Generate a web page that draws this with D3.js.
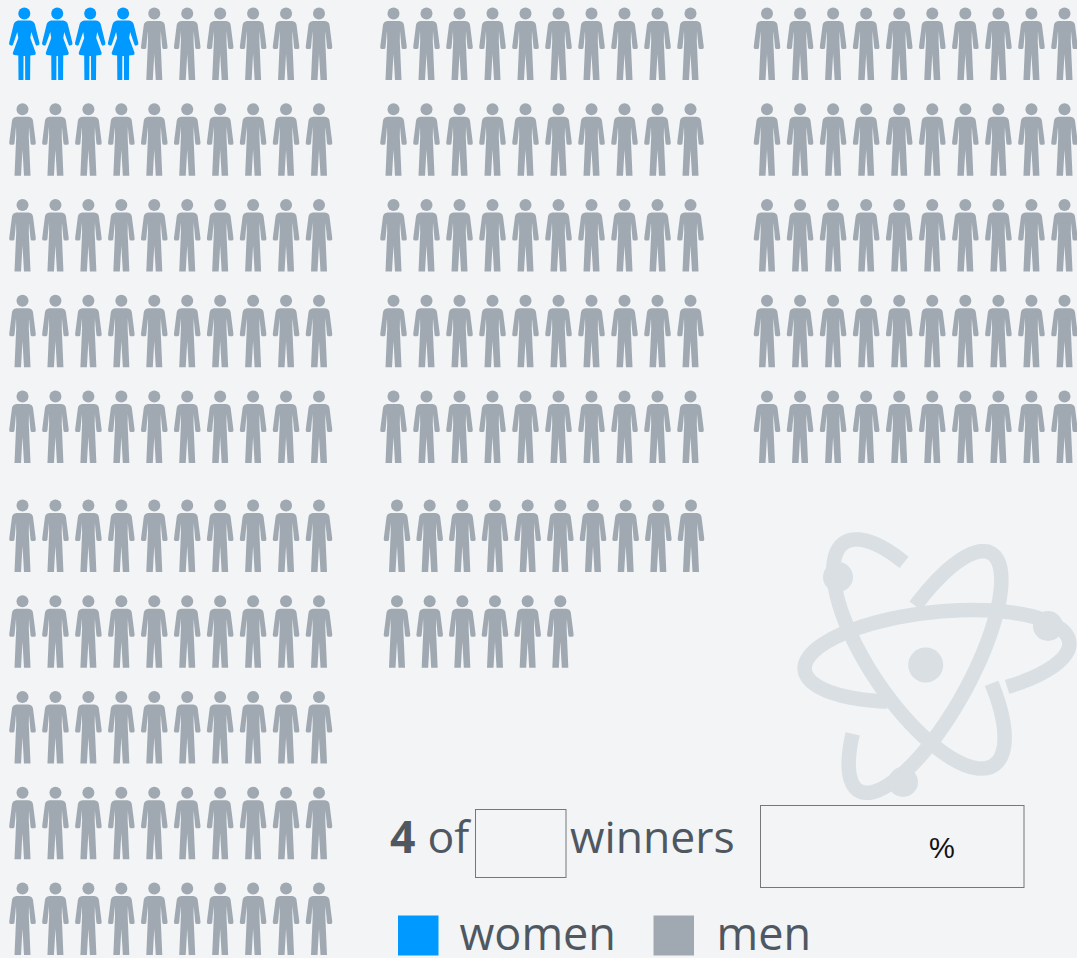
<!DOCTYPE html>
<html>
<head>
<meta charset="utf-8">
<script src="https://cdn.jsdelivr.net/npm/d3@7"></script>
<style>
html,body{margin:0;padding:0;background:#f2f4f6;overflow:hidden}
svg{display:block}
text{font-family:"Open Sans",sans-serif}
</style>
</head>
<body>
<svg id="chart" width="1077" height="958"></svg>
<script>
// Data
const womenCount = 4;
const blockNames = ["leftTop", "leftBottom", "midTop", "midBottom", "rightTop"];
const blockRows = [
  [10, 10, 10, 10, 10],
  [10, 10, 10, 10, 10],
  [10, 10, 10, 10, 10],
  [10, 6],
  [10, 10, 10, 10, 10]
];
const legendLabels = ["women", "men"];
const headlineCount = "4";
const headlineWords = ["of", "winners"];
const percentLabel = "%";

// Layout scales
const W = 1077, H = 958;
const blockX = {
  leftTop: d3.scaleLinear().domain([0, 9]).range([22.5, 319]),
  leftBottom: d3.scaleLinear().domain([0, 9]).range([22.5, 319]),
  midTop: d3.scaleLinear().domain([0, 9]).range([393.5, 690.5]),
  midBottom: d3.scaleLinear().domain([0, 9]).range([397, 691]),
  rightTop: d3.scaleLinear().domain([0, 9]).range([767, 1064.5])
};
const topRowY = d3.scaleLinear().domain([0, 4]).range([8, 391]);
const bottomRowY = d3.scaleLinear().domain([0, 4]).range([500, 883]);
const blockY = {leftTop: topRowY, leftBottom: bottomRowY, midTop: topRowY, midBottom: bottomRowY, rightTop: topRowY};

const color = d3.scaleOrdinal().domain(legendLabels).range(["#0099ff", "#a0a9b1"]);
const ink = "#4f5861";

const svg = d3.select("#chart");
svg.append("rect").attr("width", W).attr("height", H).attr("fill", "#f2f4f6");

// Atom watermark
const atomColor = "#d9dfe3";
const atom = svg.append("g").attr("class", "atom");
const orbits = [
  {cx: 937, cy: 656, a: 133, b: 44, rot: -6, from: 114, to: 421},
  {cx: 919, cy: 654, a: 134, b: 50, rot: 56, from: -61, to: 231},
  {cx: 925, cy: 672, a: 136, b: 44, rot: -61, from: -67, to: 229}
];
const orbitLine = d3.line();
orbits.forEach(o => {
  const r = o.rot * Math.PI / 180;
  const ts = d3.range(o.from, o.to + 0.5, 2).map(t => t * Math.PI / 180);
  const pts = ts.map(t => {
    const x = o.a * Math.cos(t), y = o.b * Math.sin(t);
    return [o.cx + x * Math.cos(r) - y * Math.sin(r), o.cy + x * Math.sin(r) + y * Math.cos(r)];
  });
  atom.append("path").attr("d", orbitLine(pts)).attr("fill", "none")
    .attr("stroke", atomColor).attr("stroke-width", 14.5);
});
[[925.7, 665, 17.5], [838, 577, 15], [1048, 626, 15], [903, 782, 15]].forEach(c => {
  atom.append("circle").attr("cx", c[0]).attr("cy", c[1]).attr("r", c[2]).attr("fill", atomColor);
});

// Pictogram glyphs, drawn around x=0 from a top of y=0
const manBody = "M-6,13 L6,13 Q10,13.5 10.5,17 L13.3,39 Q13.3,41 12,41 L9.5,41 Q8.3,41 8,39.5 L6.5,23 L6.3,33 L8,72 L1.5,72 L0,46 L-1.5,72 L-8,72 L-6.3,33 L-6.5,23 L-8,39.5 Q-8.3,41 -9.5,41 L-12,41 Q-13.3,41 -13.3,39 L-10.5,17 Q-10,13.5 -6,13 Z";
const womanBody = "M-6,12.5 L6,12.5 Q9.5,13 10.5,16 L15.2,35 Q15.4,37 14,37.3 L12.8,37.6 Q11.7,37.8 11.3,36.5 L7,24 L6,30 L11.5,45 Q11.5,47 10,47 L6,47.5 L5.8,72 L0.9,72 L0.8,48 L-0.8,48 L-0.9,72 L-5.8,72 L-6,47.5 L-10,47 Q-11.5,47 -11.5,45 L-6,30 L-7,24 L-11.3,36.5 Q-11.7,37.8 -12.8,37.6 L-14,37.3 Q-15.4,37 -15.2,35 L-10.5,16 Q-9.5,13 -6,12.5 Z";

let seen = 0;
const people = [];
blockNames.forEach((name, b) => {
  blockRows[b].forEach((count, row) => {
    d3.range(count).forEach(col => {
      people.push({name, row, col, kind: seen < womenCount ? "women" : "men"});
      seen++;
    });
  });
});

const glyphs = svg.append("g").attr("class", "people").selectAll("g").data(people).join("g")
  .attr("transform", d => `translate(${blockX[d.name](d.col) + (d.kind === "women" ? 1.8 : 0)},${blockY[d.name](d.row)})`)
  .attr("fill", d => color(d.kind));
glyphs.append("circle").attr("cx", 0).attr("cy", 5.4).attr("r", 6);
glyphs.append("path").attr("d", d => d.kind === "women" ? womanBody : manBody);

// Headline
const head = svg.append("g").attr("fill", ink).attr("font-size", 44.5);
const headText = head.append("text").attr("x", 390).attr("y", 853);
headText.append("tspan").attr("font-weight", 700).text(headlineCount);
headText.append("tspan").attr("dx", 12).text(headlineWords[0]);
head.append("text").attr("x", 570).attr("y", 853).text(headlineWords[1]);

svg.append("rect").attr("x", 475.5).attr("y", 809.5).attr("width", 90.5).attr("height", 68)
  .attr("fill", "none").attr("stroke", "#777");
svg.append("rect").attr("x", 760.5).attr("y", 805.5).attr("width", 263.5).attr("height", 82)
  .attr("fill", "none").attr("stroke", "#777");
svg.append("text").attr("x", 929).attr("y", 858).attr("fill", "#111").attr("font-size", 29)
  .style("font-family", "'Liberation Sans'").text(percentLabel);

// Legend
const legendX = d3.scaleOrdinal().domain(legendLabels).range([398, 653.5]);
const legend = svg.append("g").selectAll("g").data(legendLabels).join("g")
  .attr("transform", d => `translate(${legendX(d)},915.5)`);
legend.append("rect").attr("width", 40.5).attr("height", 40).attr("fill", d => color(d));
legend.append("text").attr("x", d => d === "women" ? 61.5 : 63).attr("y", 34.5)
  .attr("fill", ink).attr("font-size", 45).text(d => d);
</script>
</body>
</html>
